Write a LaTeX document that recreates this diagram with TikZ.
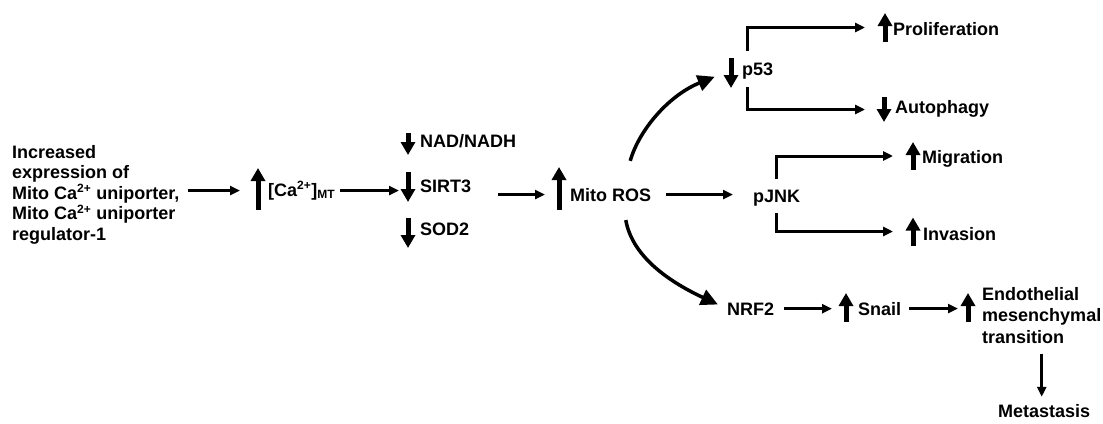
\documentclass[tikz,border=0pt]{standalone}
\usepackage{fontspec}
\setmainfont{Liberation Sans}
\usetikzlibrary{arrows.meta,positioning}

\newcommand{\sps}[1]{\textsuperscript{\fontsize{12}{12}\selectfont #1}}
\newcommand{\sbs}[1]{\textsubscript{\fontsize{12}{12}\selectfont #1}}

\begin{document}
\begin{tikzpicture}[x=1pt,y=1pt,
  lbl/.style={inner sep=0pt,anchor=base west,font=\fontsize{18}{20.5}\selectfont\bfseries},
  chg/.style={minimum width=14pt,minimum height=#1,inner sep=0pt,outer sep=0pt},
  conn/.style={-{Triangle[length=10pt,width=9pt]},line width=3pt},
  curvearr/.style={-{Triangle[length=17pt,width=16pt]},line width=3.5pt},
  fat/.style={-{Triangle[length=13pt,width=14pt]},line width=5pt}]
  \useasboundingbox (0,0) rectangle (1103,-423);

  % labels
  \node[lbl,anchor=north west,align=left] (inc) at (12,-145)
       {Increased\\expression of\\Mito Ca\sps{2+} uniporter,\\Mito Ca\sps{2+} uniporter\\regulator-1};
  \node[lbl] (ca)    at (268,-196) {[Ca\sps{2+}]\sbs{MT}};
  \node[lbl] (nad)   at (420,-147) {NAD/NADH};
  \node[lbl] (sirt)  at (420,-192) {SIRT3};
  \node[lbl] (sod)   at (420,-235) {SOD2};
  \node[lbl] (ros)   at (570,-201) {Mito ROS};
  \node[lbl] (p53)   at (742,-75)  {p53};
  \node[lbl] (prol)  at (893,-35)  {Proliferation};
  \node[lbl] (auto)  at (895,-113) {Autophagy};
  \node[lbl] (pjnk)  at (753,-202) {pJNK};
  \node[lbl] (mig)   at (922,-163) {Migration};
  \node[lbl] (inv)   at (923,-240) {Invasion};
  \node[lbl] (nrf)   at (727,-315) {NRF2};
  \node[lbl] (snail) at (858,-315) {Snail};
  \node[lbl,anchor=north west,align=left,font=\fontsize{18}{21.5}\selectfont\bfseries] (emt) at (982,-287)
       {Endothelial\\mesenchymal\\transition};
  \node[lbl] (meta)  at (998,-417) {Metastasis};

  % up / down marks
  \node[chg=42pt] (caup)    at (258,-189)   {};
  \node[chg=22pt] (naddn)   at (408,-144)   {};
  \node[chg=30pt] (sirtdn)  at (408,-187)   {};
  \node[chg=30pt] (soddn)   at (408,-233)   {};
  \node[chg=43pt] (rosup)   at (559,-188.5) {};
  \node[chg=30pt] (p53dn)   at (731,-73)    {};
  \node[chg=29pt] (prolup)  at (885,-27.5)  {};
  \node[chg=25pt] (autodn)  at (884,-109.5) {};
  \node[chg=28pt] (migup)   at (913,-156)   {};
  \node[chg=28pt] (invup)   at (913,-231.5) {};
  \node[chg=29pt] (snailup) at (846,-307.5) {};
  \node[chg=29pt] (emtup)   at (968,-307.5) {};

  \foreach \m in {caup,rosup,prolup,migup,invup,snailup,emtup}
    \draw[fat] (\m.south) -- (\m.north);
  \foreach \m in {naddn,sirtdn,soddn,p53dn,autodn}
    \draw[fat] (\m.north) -- (\m.south);

  % main chain
  \draw[conn,shorten <=8pt,shorten >=11pt] (inc.east |- ca) -- (caup.west |- ca);
  \draw[conn,shorten <=5pt,shorten >=2pt]  (ca.east) -- (sirtdn.west |- ca.east);
  \draw[conn,shorten <=27pt,shorten >=7pt] (sirt.east |- ros.west) -- (rosup.west |- ros.west);
  \draw[conn,shorten <=15pt,shorten >=20pt] (ros.east) -- (ros.east -| pjnk.west);
  \draw[conn,shorten <=10pt,shorten >=7pt] (nrf.east) -- (nrf.east -| snailup.west);
  \draw[conn,shorten <=8pt,shorten >=3pt]  (snail.east) -- (snail.east -| emtup.west);
  \draw[conn,shorten <=10pt,shorten >=7pt] (emt.south) -- (emt.south |- meta.north);

  % branches
  \draw[conn,shorten <=11pt,shorten >=13pt] ([xshift=5pt]p53.north west) |- (prolup.west);
  \draw[conn,shorten <=8pt,shorten >=12pt]  ([xshift=5pt]p53.south west) |- (autodn.west);
  \draw[conn,shorten <=10pt,shorten >=13pt] (pjnk.north) |- (migup.west);
  \draw[conn,shorten <=7pt,shorten >=13pt]  (pjnk.south) |- (invup.west);

  \draw[curvearr,shorten <=28pt,shorten >=10pt] (ros.30) to[out=74,in=202] (p53dn.west);
  \draw[curvearr,shorten <=19pt,shorten >=10pt] (ros.-30) to[out=-80,in=155] (nrf.west);
\end{tikzpicture}
\end{document}
